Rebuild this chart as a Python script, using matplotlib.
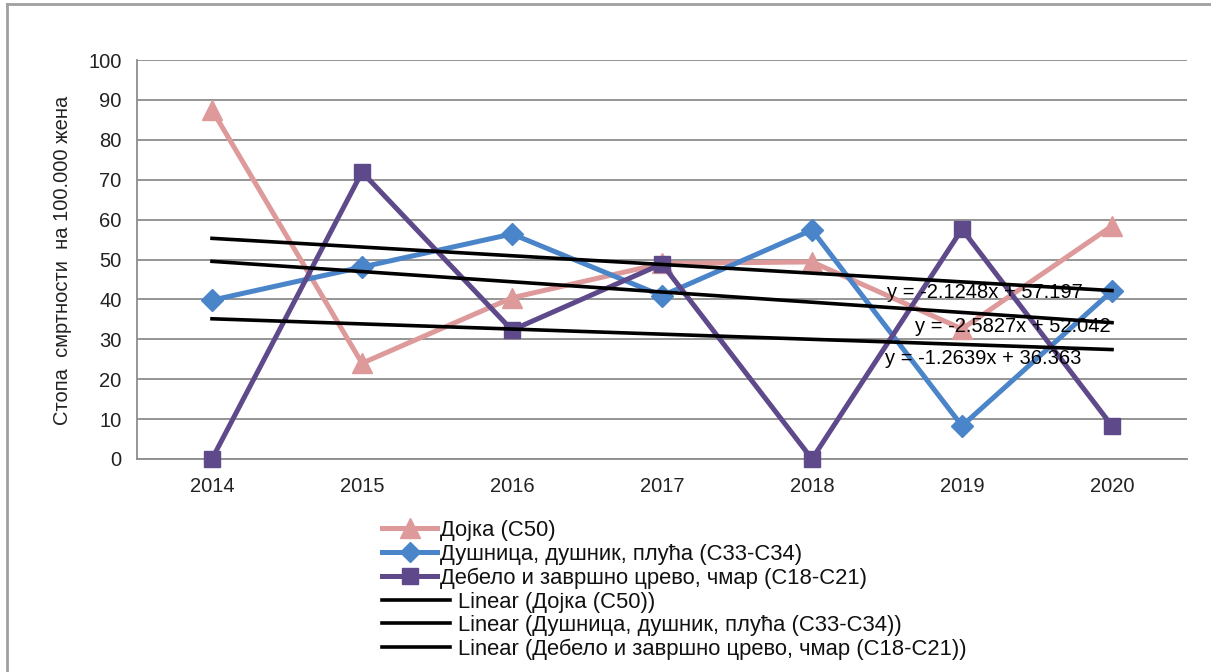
import numpy as np
import matplotlib
matplotlib.use("Agg")
import matplotlib.pyplot as plt
from matplotlib.lines import Line2D

plt.rcParams['font.family'] = ['Liberation Sans', 'DejaVu Sans']

years = ['2014', '2015', '2016', '2017', '2018', '2019', '2020']
dojka = [87.5, 24.0, 40.4, 49.0, 49.4, 32.6, 58.4]
dushnica = [39.8, 48.1, 56.4, 40.9, 57.4, 8.3, 42.1]
debelo = [0.0, 71.9, 32.3, 48.9, 0.0, 57.6, 8.3]
names = ['Дојка (C50)', 'Душница, душник, плућа (C33-C34)',
         'Дебело и завршно црево, чмар (C18-C21)']
equations = ['y = -2.1248x + 57.197', 'y = -2.5827x + 52.042',
             'y = -1.2639x + 36.363']
ylabel = 'Стопа  смртности  на 100.000 жена'

colors = ['#DE9A9A', '#4A84C9', '#5E4A8A']
markers = ['^', 'D', 's']
msizes = [15, 11, 12]
FS = 14.5
LFS = 15.8

W, H = 1211, 672
fig = plt.figure(figsize=(W / 100, H / 100), dpi=100)
ax = fig.add_axes([137 / W, 1 - 459 / H, (1187 - 137) / W, (459 - 60) / H])

x = np.arange(1, len(years) + 1)
series = [dojka, dushnica, debelo]
for s, c, m, ms, n in zip(series, colors, markers, msizes, names):
    ax.plot(x, s, color=c, lw=3.6, marker=m, ms=ms, mec=c, mfc=c, label=n,
            zorder=3, clip_on=False)

for s, n in zip(series, names):
    k, b = np.polyfit(x, s, 1)
    ax.plot(x, k * x + b, color='black', lw=2.6, zorder=4,
            label='Linear (' + n + ')')

# equation labels
eq_pos = [(985, 292), (1013, 326), (983, 359)]
for (px, py), t in zip(eq_pos, equations):
    fig.text(px / W, 1 - py / H, t, ha='center', va='center', fontsize=FS,
             color='black', zorder=10)

ax.set_xlim(0.5, len(years) + 0.5)
ax.set_ylim(0, 100)
ax.set_yticks(np.arange(0, 101, 10))
ax.set_xticks(x)
ax.set_xticklabels(years)
ax.tick_params(length=0, labelsize=FS, colors='#222222')
ax.tick_params(axis='x', pad=13)
ax.tick_params(axis='y', pad=11)
ax.grid(axis='y', color='#8C8C8C', lw=1.3)
ax.set_axisbelow(True)
for sp in ['top', 'right']:
    ax.spines[sp].set_visible(False)
for sp in ['left', 'bottom']:
    ax.spines[sp].set_color('#8C8C8C')
    ax.spines[sp].set_linewidth(1.3)

fig.text(63 / W, 1 - 260 / H, ylabel, rotation=90, ha='center', va='center',
         fontsize=FS, color='#222222')

# legend drawn manually (rows in pixel positions)
rows = [528, 552, 576, 600, 623, 647]
for i, (c, m, ms, n) in enumerate(zip(colors, markers, msizes, names)):
    yy = 1 - rows[i] / H
    fig.add_artist(Line2D([382 / W, 437 / W], [yy, yy], transform=fig.transFigure,
                          color=c, lw=3.6))
    fig.add_artist(Line2D([410 / W], [yy], transform=fig.transFigure,
                          color=c, marker=m, ms=ms - 1, mec=c, mfc=c, lw=0))
    fig.text(440 / W, yy, n, ha='left', va='center_baseline', fontsize=LFS,
             color='#111111')
for i, n in enumerate(names):
    yy = 1 - rows[3 + i] / H
    fig.add_artist(Line2D([382 / W, 450 / W], [yy, yy], transform=fig.transFigure,
                          color='black', lw=2.6))
    fig.text(458 / W, yy, 'Linear (' + n + ')', ha='left', va='center_baseline',
             fontsize=LFS, color='#111111')

# outer frame (top and left visible)
fig.add_artist(Line2D([7 / W, 7 / W], [0, 1 - 4 / H], transform=fig.transFigure,
                      color='#A0A0A0', lw=2))
fig.add_artist(Line2D([7 / W, 1], [1 - 4 / H, 1 - 4 / H], transform=fig.transFigure,
                      color='#A0A0A0', lw=2))

fig.savefig('out.png', dpi=100)
